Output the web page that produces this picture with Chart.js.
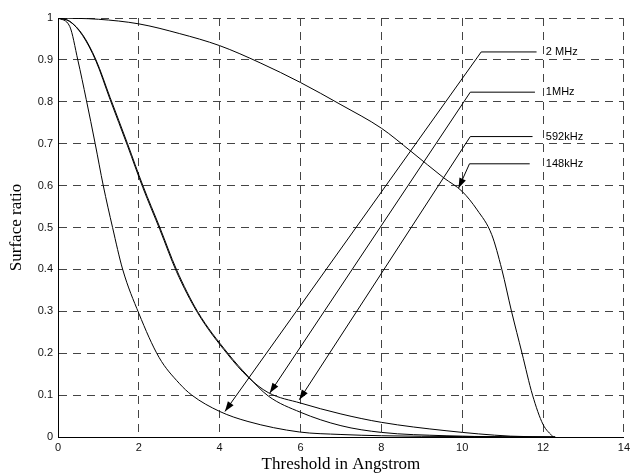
<!DOCTYPE html>
<html>
<head>
<meta charset="utf-8">
<script src="https://cdn.jsdelivr.net/npm/chart.js@4/dist/chart.umd.min.js"></script>
<style>
  html, body { margin: 0; padding: 0; background: #fff; }
</style>
</head>
<body>
<canvas id="surfaceChart" width="634" height="475"></canvas>
<script>
// ---- curves (x = threshold in Angstrom, y = surface ratio)
var x2MHz = [0, 0.29, 0.49, 0.7, 0.92, 1.12, 1.35, 1.6, 2.0, 2.5, 3.0, 3.31, 4.0, 4.7, 5.97, 7.0, 8.0, 10.0, 12.3];
var y2MHz = [1, 0.98, 0.9, 0.805, 0.7, 0.6, 0.5, 0.4, 0.295, 0.19, 0.128, 0.1, 0.061, 0.037, 0.012, 0.006, 0.003, 0.001, 0];

var x1MHz = [0, 0.29, 0.61, 0.94, 1.29, 1.72, 2.1, 2.52, 2.93, 3.45, 4.2, 4.7, 5.2, 6.0, 7.0, 8.0, 9.6, 11.0, 12.3];
var y1MHz = [1, 0.992, 0.96, 0.9, 0.81, 0.7, 0.6, 0.5, 0.4, 0.3, 0.2, 0.145, 0.098, 0.059, 0.027, 0.011, 0.003, 0.0005, 0];

var x592kHz = [0, 0.29, 0.61, 0.94, 1.29, 1.72, 2.1, 2.52, 2.93, 3.45, 4.2, 4.7, 5.2, 6.0, 7.0, 8.0, 9.6, 11.2, 12.3];
var y592kHz = [1, 0.992, 0.958, 0.897, 0.805, 0.695, 0.595, 0.495, 0.395, 0.297, 0.197, 0.143, 0.106, 0.081, 0.055, 0.035, 0.015, 0.002, 0];

var x148kHz = [0, 1, 2, 3, 4, 5, 6, 7, 8, 8.73, 9.55, 10, 10.37, 10.73, 10.98, 11.22, 11.48, 11.74, 12.0, 12.25];
var y148kHz = [1, 0.997, 0.986, 0.963, 0.934, 0.893, 0.846, 0.793, 0.737, 0.682, 0.618, 0.586, 0.542, 0.483, 0.4, 0.3, 0.2, 0.1, 0.03, 0];

// ---- callout labels with arrows (data coordinates)
var calloutText   = ['2 MHz', '1MHz', '592kHz', '148kHz'];
var calloutY      = [0.919, 0.823, 0.717, 0.652];
var calloutElbowX = [10.47, 10.2, 10.2, 10.18];
var calloutEndX   = [11.84, 11.8, 11.74, 11.67];
var calloutTipX   = [4.13, 5.24, 5.97, 9.91];
var calloutTipY   = [0.061, 0.105, 0.089, 0.594];
var calloutTextX  = 12.07;

function toPoints(xs, ys) {
  return xs.map(function (x, i) { return { x: x, y: ys[i] }; });
}

function curve(label, xs, ys) {
  return {
    label: label,
    data: toPoints(xs, ys),
    borderColor: '#000',
    borderWidth: 1,
    pointRadius: 0,
    fill: false,
    cubicInterpolationMode: 'monotone'
  };
}

var callouts = {
  id: 'callouts',
  afterDatasetsDraw: function (chart) {
    var ctx = chart.ctx, sx = chart.scales.x, sy = chart.scales.y;
    ctx.save();
    ctx.strokeStyle = '#000';
    ctx.fillStyle = '#000';
    ctx.lineWidth = 1;
    ctx.font = '11px "Liberation Sans", Arial, sans-serif';
    ctx.textBaseline = 'middle';
    ctx.textAlign = 'left';
    for (var i = 0; i < calloutText.length; i++) {
      var ly = sy.getPixelForValue(calloutY[i]);
      var ex = sx.getPixelForValue(calloutElbowX[i]);
      var endX = sx.getPixelForValue(calloutEndX[i]);
      var tx = sx.getPixelForValue(calloutTipX[i]);
      var ty = sy.getPixelForValue(calloutTipY[i]);
      ctx.beginPath();
      ctx.moveTo(endX, ly);
      ctx.lineTo(ex, ly);
      ctx.lineTo(tx, ty);
      ctx.stroke();
      // arrow head
      var a = Math.atan2(ty - ly, tx - ex);
      var len = 10, half = 3.5;
      var bx = tx - len * Math.cos(a), by = ty - len * Math.sin(a);
      ctx.beginPath();
      ctx.moveTo(tx, ty);
      ctx.lineTo(bx + half * Math.sin(a), by - half * Math.cos(a));
      ctx.lineTo(bx - half * Math.sin(a), by + half * Math.cos(a));
      ctx.closePath();
      ctx.fill();
      ctx.fillText(calloutText[i], sx.getPixelForValue(calloutTextX), ly);
    }
    ctx.restore();
  }
};

var tickFont = { family: '"Liberation Sans", Arial, sans-serif', size: 11 };
var titleFont = { family: '"Liberation Serif", "Times New Roman", serif', size: 17 };

new Chart(document.getElementById('surfaceChart'), {
  type: 'line',
  data: {
    datasets: [
      curve('2 MHz', x2MHz, y2MHz),
      curve('1MHz', x1MHz, y1MHz),
      curve('592kHz', x592kHz, y592kHz),
      curve('148kHz', x148kHz, y148kHz)
    ]
  },
  options: {
    responsive: false,
    animation: false,
    layout: { padding: { top: 18, right: 5, left: 0, bottom: 0 } },
    plugins: { legend: { display: false }, tooltip: { enabled: false } },
    scales: {
      x: {
        type: 'linear',
        min: 0,
        max: 14,
        ticks: { stepSize: 2, color: '#111', font: tickFont, padding: 4, maxRotation: 0 },
        grid: { color: '#444', lineWidth: 1, drawTicks: false },
        border: { display: true, color: '#000', width: 1, dash: [8, 6] },
        title: { display: true, text: 'Threshold in Angstrom', color: '#000', font: titleFont, padding: { top: 0, bottom: 0 } },
        afterFit: function (s) { s.height = 38; }
      },
      y: {
        min: 0,
        max: 1,
        ticks: {
          stepSize: 0.1, color: '#111', font: tickFont, padding: 5,
          callback: function (v) { return String(Number(v.toFixed(1))); }
        },
        grid: { color: '#444', lineWidth: 1, drawTicks: false },
        border: { display: true, color: '#000', width: 1, dash: [8, 6] },
        title: { display: true, text: 'Surface ratio', color: '#000', font: titleFont, padding: { top: 6, bottom: 0 } },
        afterFit: function (s) { s.width = 58; }
      }
    }
  },
  plugins: [callouts]
});
</script>
</body>
</html>
